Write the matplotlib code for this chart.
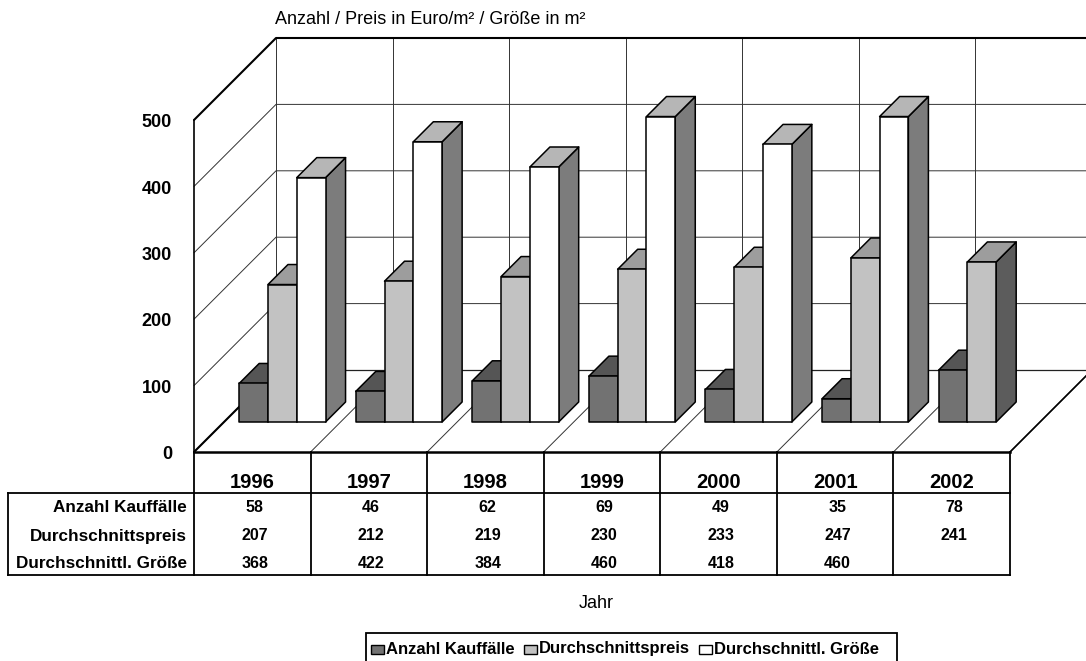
import numpy as np
import matplotlib.pyplot as plt
from matplotlib.patches import Polygon, Rectangle

# ---------------------------------------------------------
# Data
# ---------------------------------------------------------
years = ["1996", "1997", "1998", "1999", "2000", "2001", "2002"]
anzahl = [58, 46, 62, 69, 49, 35, 78]
preis = [207, 212, 219, 230, 233, 247, 241]
groesse = [368, 422, 384, 460, 418, 460, np.nan]

series_names = ["Anzahl Kauffälle", "Durchschnittspreis", "Durchschnittl. Größe"]
series_values = [anzahl, preis, groesse]
yticks = [0, 100, 200, 300, 400, 500]

# face colours per series: front, top, side
face_colors = [
    ("#727272", "#555555", "#4e4e4e"),
    ("#c2c2c2", "#9d9d9d", "#5c5c5c"),
    ("#ffffff", "#b6b6b6", "#7c7c7c"),
]

FONT = "Liberation Sans"
W, H = 1086, 661

# ---------------------------------------------------------
# Geometry of the oblique 3D look
# ---------------------------------------------------------
X_PX = 116.57          # pixels per category
V_PX = 0.664           # pixels per value unit
X0_PX, V0_PX = 194, 452
DX = 82 / X_PX         # depth offset in category units
DV = 82 / V_PX         # depth offset in value units
VMAX = 500


def proj(x, v, z):
    return x + z * DX, v + z * DV


def fx(px):
    return px / W


def fy(py):
    return 1 - py / H


fig = plt.figure(figsize=(W / 100, H / 100), dpi=100)
ax = fig.add_axes([0, 0, 1, 1])
ax.set_xlim(-X0_PX / X_PX, (W - X0_PX) / X_PX)
ax.set_ylim((V0_PX - H) / V_PX, V0_PX / V_PX)
ax.axis("off")

n = len(years)


def line3d(pts, lw=0.8, color="#222222", z=1):
    xs, ys = zip(*[proj(*p) for p in pts])
    ax.plot(xs, ys, color=color, lw=lw, solid_capstyle="round", zorder=z)


# walls: back wall gridlines, verticals, left wall
for t in yticks[1:-1]:
    line3d([(0, t, 0), (0, t, 1), (n, t, 1)], lw=0.7, color="#333333")
for i in range(n + 1):
    line3d([(i, 0, 1), (i, VMAX, 1)], lw=0.7, color="#333333")
    line3d([(i, 0, 0), (i, 0, 1)], lw=0.7, color="#333333")
line3d([(0, VMAX, 0), (0, VMAX, 1), (n, VMAX, 1)], lw=1.5, color="black", z=2)
line3d([(0, 0, 0), (0, VMAX, 0)], lw=1.2, color="black", z=2)
line3d([(0, 0, 0), (0, 0, 1)], lw=1.5, color="black", z=2)
line3d([(n, 0, 0), (n, 0, 1)], lw=1.2, color="black", z=2)
line3d([(0, 0, 1), (n, 0, 1)], lw=0.9, color="#222222")

# bars
gap, bw = 0.13, 0.247
z0, z1 = 0.366, 0.61
zo = 10
for i in range(n):
    for s, vals in enumerate(series_values):
        h = vals[i]
        if np.isnan(h):
            continue
        xa = i + gap + s * bw
        xb = xa + bw
        front_c, top_c, side_c = face_colors[s]
        faces = [
            ([(xb, 0, z0), (xb, 0, z1), (xb, h, z1), (xb, h, z0)], side_c),
            ([(xa, h, z0), (xb, h, z0), (xb, h, z1), (xa, h, z1)], top_c),
            ([(xa, 0, z0), (xb, 0, z0), (xb, h, z0), (xa, h, z0)], front_c),
        ]
        for pts, c in faces:
            ax.add_patch(Polygon([proj(*p) for p in pts], closed=True,
                                 facecolor=c, edgecolor="black", lw=1.1,
                                 joinstyle="round", zorder=zo))
            zo += 1

# y tick labels
for t in yticks:
    ax.text(-22 / X_PX, t - 4, str(t), ha="right", va="center",
            fontsize=13, fontweight="bold", family=FONT, zorder=50)

# data table
row_top = -(493 - V0_PX) / V_PX
row_bot = -(575 - V0_PX) / V_PX
x_left = (8 - X0_PX) / X_PX
ax.plot([0, n], [0, 0], color="black", lw=1.8, zorder=40)
ax.plot([x_left, n], [row_top, row_top], color="black", lw=1.3, zorder=40)
ax.plot([x_left, n], [row_bot, row_bot], color="black", lw=1.3, zorder=40)
ax.plot([x_left, x_left], [row_top, row_bot], color="black", lw=1.3, zorder=40)
for i in range(n + 1):
    ax.plot([i, i], [0, row_bot], color="black", lw=1.3, zorder=40)

year_v = -(482 - V0_PX) / V_PX
row_v = [-(508 - V0_PX) / V_PX, -(536 - V0_PX) / V_PX, -(563 - V0_PX) / V_PX]
for i, yr in enumerate(years):
    ax.text(i + 0.5, year_v, yr, ha="center", va="center",
            fontsize=14.5, fontweight="bold", family=FONT, zorder=50)
for r, (name, vals) in enumerate(zip(series_names, series_values)):
    ax.text(-7 / X_PX, row_v[r], name, ha="right", va="center",
            fontsize=12.3, fontweight="bold", family=FONT, zorder=50)
    for i, v in enumerate(vals):
        if np.isnan(v):
            continue
        ax.text(i + 0.52, row_v[r], f"{v:.0f}", ha="center", va="center",
                fontsize=11.5, fontweight="bold", family=FONT, zorder=50)

# titles
fig.text(fx(275), fy(20), "Anzahl / Preis in Euro/m² / Größe in m²",
         ha="left", va="center", fontsize=13, family=FONT)
fig.text(fx(596), fy(604), "Jahr", ha="center", va="center",
         fontsize=13, family=FONT)

# legend, laid out item by item from measured text widths
renderer = fig.canvas.get_renderer()
leg_left, leg_right = 366, 897
x = leg_left + 5
for name, (fc, _, _) in zip(series_names, face_colors):
    fig.add_artist(Rectangle((fx(x), fy(654)), fx(13), 9 / H,
                             transform=fig.transFigure, facecolor=fc,
                             edgecolor="black", lw=1.0, zorder=5))
    t = fig.text(fx(x + 15), fy(649), name, ha="left", va="center",
                 fontsize=12, fontweight="bold", family=FONT, zorder=5)
    x += 15 + t.get_window_extent(renderer).width + 9
fig.add_artist(Rectangle((fx(leg_left), fy(668)), fx(leg_right - leg_left),
                         fy(633) - fy(668), transform=fig.transFigure,
                         facecolor="white", edgecolor="black", lw=1.3, zorder=1))

fig.savefig("out.png", dpi=100)
